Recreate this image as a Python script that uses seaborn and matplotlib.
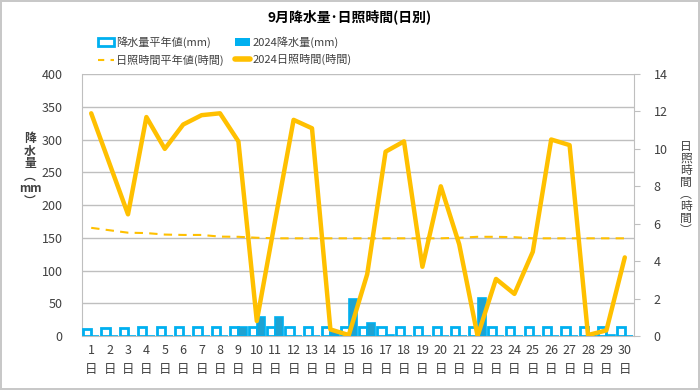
import numpy as np
import pandas as pd
import matplotlib
matplotlib.use('Agg')
import matplotlib.pyplot as plt
import seaborn as sns
from matplotlib.patches import Patch
from matplotlib.lines import Line2D

# daily values, 1..30 Sep
days = [f'{d}\n日' for d in range(1, 31)]
rain_normal = [11, 12, 12, 13, 13, 14, 14, 14, 14, 14, 14, 14, 14, 14, 14,
               14, 13, 13, 13, 13, 13, 13, 13, 13, 13, 13, 13, 13, 13, 13]
rain_2024 = [0, 0, 0, 0, 0, 0, 0, 0, 14, 28.5, 28.5, 0, 0, 8, 56,
             20, 1, 0, 0.5, 0, 0, 57.5, 0, 0, 0, 0, 0, 1, 1, 0]
sun_normal = [5.78, 5.65, 5.52, 5.5, 5.42, 5.4, 5.4, 5.31, 5.3, 5.25,
              5.22, 5.22, 5.22, 5.22, 5.22, 5.22, 5.22, 5.22, 5.22, 5.22,
              5.25, 5.3, 5.3, 5.28, 5.22, 5.22, 5.22, 5.22, 5.22, 5.22]
sun_2024 = [11.9, 9.2, 6.5, 11.7, 10.0, 11.3, 11.8, 11.9, 10.4, 0.8,
            6.2, 11.55, 11.1, 0.35, 0.05, 3.3, 9.85, 10.4, 3.7, 8.0,
            4.9, 0.0, 3.05, 2.25, 4.5, 10.5, 10.2, 0.05, 0.3, 4.2]

lab_rn = '降水量平年値(mm)'
lab_r24 = '2024降水量(mm)'
lab_sn = '日照時間平年値(時間)'
lab_s24 = '2024日照時間(時間)'

blue = '#00B0F0'
orange = '#FFC000'
grid_c = '#BFBFBF'
txt_c = '#404040'

sns.set_style('white')
plt.rcParams['font.family'] = ['Noto Sans CJK JP', 'DejaVu Sans']

df = pd.DataFrame({
    'day': days * 2,
    'val': rain_normal + rain_2024,
    'series': [lab_rn] * len(days) + [lab_r24] * len(days),
})

fig = plt.figure(figsize=(7, 3.9), dpi=100, edgecolor='#C8C8C8', linewidth=1.5)
ax = fig.add_axes([82 / 700, 1 - 336 / 390, 552 / 700, 262 / 390])

sns.barplot(data=df, x='day', y='val', hue='series', palette=[blue, blue],
            width=0.9, gap=0, ax=ax, legend=False, zorder=3)
for p in ax.containers[0]:
    p.set_facecolor('white')
    p.set_edgecolor(blue)
    p.set_linewidth(2)
for p in ax.containers[1]:
    p.set_edgecolor(blue)
    p.set_linewidth(1.2)

ax.set_ylim(0, 400)
ax.set_yticks(range(0, 401, 50))
ax.set_xlim(-0.5, len(days) - 0.5)
ax.yaxis.grid(True, color=grid_c, linewidth=1)
ax.set_axisbelow(True)
ax.set_xlabel('')
ax.set_ylabel('')
ax.tick_params(axis='both', length=0, labelsize=9, colors=txt_c)
ax.tick_params(axis='x', pad=6)
for lbl in ax.get_xticklabels():
    lbl.set_linespacing(1.55)
    lbl.set_verticalalignment('top')
ax.tick_params(axis='y', pad=14)
for s in ['top', 'right']:
    ax.spines[s].set_visible(False)
for s in ['left', 'bottom']:
    ax.spines[s].set_color(grid_c)

ax2 = ax.twinx()
x = np.arange(len(days))
sns.lineplot(x=x, y=sun_normal, ax=ax2, color=orange, linewidth=1.5,
             dashes=False, zorder=4)
ax2.lines[-1].set_dashes([4, 3])
sns.lineplot(x=x, y=sun_2024, ax=ax2, color=orange, linewidth=3.2, zorder=5)
ax2.set_ylim(0, 14)
ax2.set_yticks(range(0, 15, 2))
ax2.tick_params(axis='y', length=4, color=grid_c, labelsize=9, colors=txt_c, pad=10)
for s in ['top', 'left', 'bottom']:
    ax2.spines[s].set_visible(False)
ax2.spines['right'].set_color(grid_c)
ax2.set_ylabel('')

fig.text(0.5, 1 - 17 / 390, '9月降水量･日照時間(日別)', ha='center', va='center',
         fontsize=10, fontweight='bold', color='#000000')
fig.text(30 / 700, 1 - 170 / 390, '降\n水\n量\n︵\nmm\n︶', ha='center', va='center',
         fontsize=8.5, fontweight='bold', color=txt_c, linespacing=0.95)
fig.text(686 / 700, 1 - 188 / 390, '日\n照\n時\n間\n︵\n時\n間\n︶', ha='center', va='center',
         fontsize=8.5, color=txt_c, linespacing=0.9)

handles = [
    Patch(facecolor='white', edgecolor=blue, linewidth=2),
    Line2D([], [], color=orange, linewidth=1.5, dashes=[3, 3]),
    Patch(facecolor=blue, edgecolor='none'),
    Line2D([], [], color=orange, linewidth=4),
]
labels = [lab_rn, lab_sn, lab_r24, lab_s24]
fig.legend(handles, labels, ncol=2, loc='center left', bbox_to_anchor=(88 / 700, 1 - 51 / 390),
           frameon=False, fontsize=8, handlelength=1.4, handletextpad=0.2,
           columnspacing=1.0, labelspacing=0.55, labelcolor=txt_c)

fig.savefig('out.png', dpi=100, edgecolor=fig.get_edgecolor())
